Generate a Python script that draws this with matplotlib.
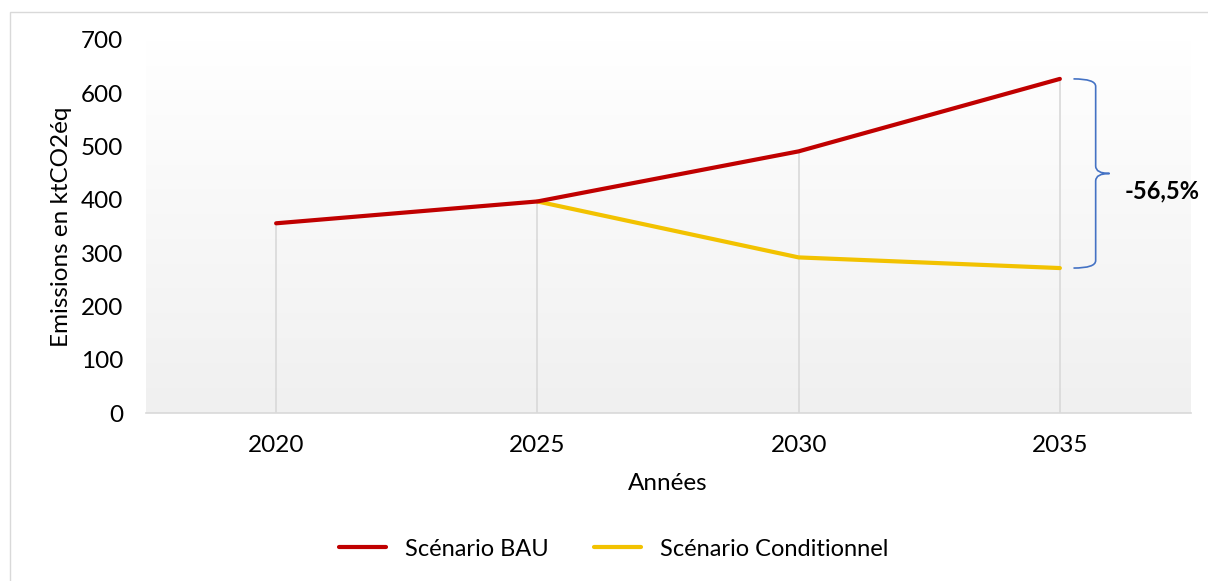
import numpy as np
import matplotlib.pyplot as plt
import matplotlib.patches as patches
from matplotlib.path import Path
from matplotlib.colors import LinearSegmentedColormap

plt.rcParams['font.family'] = ['Lato', 'DejaVu Sans']

# données
annees = ['2020', '2025', '2030', '2035']
bau = [356, 397, 491, 627]
conditionnel = [None, 397, 292, 272]
reduction = '-56,5%'

rouge = '#c00000'
jaune = '#f2c200'
gris = '#d9d9d9'
bleu = '#4472c4'
taille = 17.5

fig = plt.figure(figsize=(12.08, 5.81), dpi=100)
ax = fig.add_axes([145.5 / 1208, 1 - 413 / 581, 1045 / 1208, 373 / 581])

# fond dégradé de la zone de tracé
grad = np.linspace(0, 1, 256).reshape(-1, 1)
ax.imshow(grad, extent=[0, 1, 0, 1], transform=ax.transAxes, aspect='auto',
          cmap=LinearSegmentedColormap.from_list('g', ['#f0f0f0', '#ffffff']),
          origin='lower', zorder=0)

x = np.arange(len(annees))
cond_x = [i for i, v in enumerate(conditionnel) if v is not None]
cond_y = [v for v in conditionnel if v is not None]

# lignes de projection
hauts = [max(v for v in (b, c) if v is not None) for b, c in zip(bau, conditionnel)]
ax.vlines(x, 0, hauts, color=gris, lw=1.2, zorder=1)

ax.plot(x, bau, color=rouge, lw=3, label='Scénario BAU', zorder=3, solid_capstyle='round')
ax.plot(cond_x, cond_y, color=jaune, lw=3, label='Scénario Conditionnel', zorder=2, solid_capstyle='round')

ax.set_xlim(-0.5, 3.5)
ax.set_ylim(0, 700)
ax.set_xticks(x)
ax.set_xticklabels(annees)
ax.set_yticks(range(0, 701, 100))
ax.tick_params(length=0, labelsize=taille, colors='#000000')
ax.tick_params(axis='y', pad=16)
ax.tick_params(axis='x', pad=16)
for s in ['top', 'right', 'left']:
    ax.spines[s].set_visible(False)
ax.spines['bottom'].set_color(gris)
ax.spines['bottom'].set_linewidth(1.2)

ax.set_xlabel('Années', fontsize=taille)
ax.xaxis.set_label_coords(0.5, -0.162)
ax.set_ylabel('Emissions en ktCO2éq', fontsize=taille)
ax.yaxis.set_label_coords(-0.07, 0.5)

# accolade
haut, bas = bau[-1], conditionnel[-1]
milieu = (haut + bas) / 2
x0, x1, xt = 3.052, 3.137, 3.19
r = 14
verts = [(x0, haut), (x1, haut), (x1, haut - r),
         (x1, milieu + r), (x1, milieu), (xt, milieu),
         (x1, milieu), (x1, milieu - r),
         (x1, bas + r), (x1, bas), (x0, bas)]
codes = [Path.MOVETO, Path.CURVE3, Path.CURVE3,
         Path.LINETO, Path.CURVE3, Path.CURVE3,
         Path.CURVE3, Path.CURVE3,
         Path.LINETO, Path.CURVE3, Path.CURVE3]
ax.add_patch(patches.PathPatch(Path(verts, codes), fill=False, edgecolor=bleu,
                               lw=1.2, clip_on=False, zorder=4))
ax.text(3.247, milieu - 32, reduction, fontsize=17, fontweight='bold',
        va='center', ha='left', clip_on=False)

fig.legend(loc='center', bbox_to_anchor=(0.508, 1 - 549 / 581), ncol=2,
           frameon=False, fontsize=17, handlelength=2.0, columnspacing=1.9,
           handletextpad=0.8)

# cadre extérieur
fig.patches.append(patches.Rectangle((10 / 1208, -0.1), 1.2, 1 - 12 / 581 + 0.1,
                                     transform=fig.transFigure, fill=False,
                                     edgecolor=gris, lw=1))

fig.savefig('out.png', dpi=100)
